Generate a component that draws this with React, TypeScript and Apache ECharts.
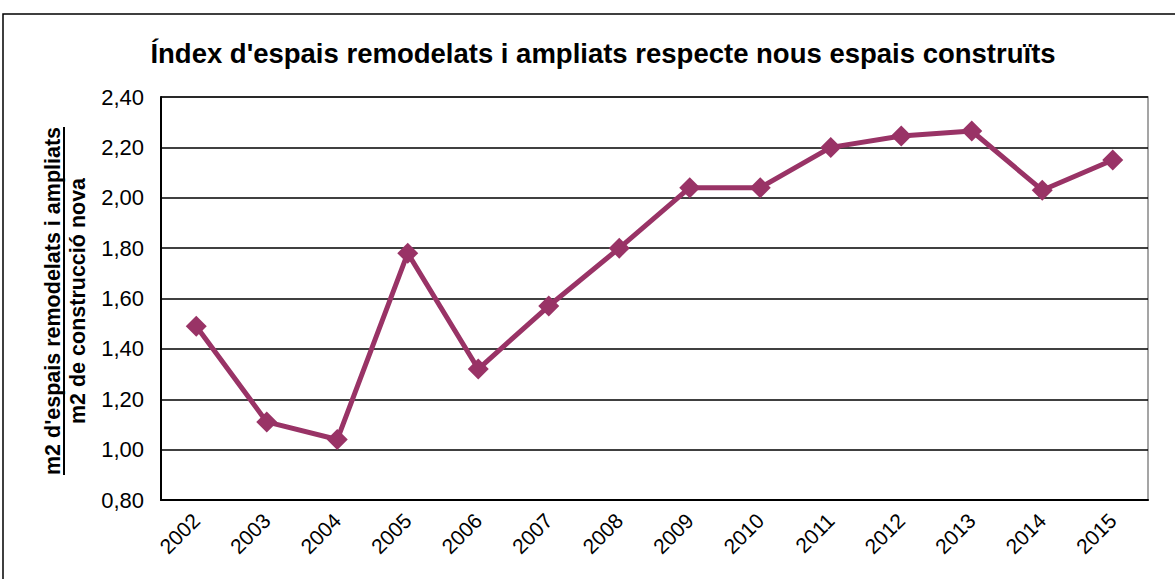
import React, { useEffect, useRef } from "react";
import * as echarts from "echarts";

const title = "Índex d'espais remodelats i ampliats respecte nous espais construïts";
const yLabelTop = "m2 d'espais remodelats i ampliats";
const yLabelBottom = "m2 de construcció nova";
const years = ["2002", "2003", "2004", "2005", "2006", "2007", "2008", "2009", "2010", "2011", "2012", "2013", "2014", "2015"];
const index = [1.49, 1.11, 1.04, 1.78, 1.32, 1.57, 1.8, 2.04, 2.04, 2.2, 2.245, 2.265, 2.03, 2.15];

export default function App() {
  const ref = useRef<HTMLDivElement>(null);
  useEffect(() => {
    if (!ref.current) return;
    const chart = echarts.init(ref.current, null, { renderer: "svg" });
    const font = "'Liberation Sans', Arial, sans-serif";
    chart.setOption({
      animation: false,
      backgroundColor: "#ffffff",
      textStyle: { fontFamily: font },
      title: {
        text: title,
        left: 598,
        textAlign: "center",
        top: 34,
        textStyle: { fontSize: 27.5, fontWeight: "bold", color: "#000", fontFamily: font },
      },
      grid: { left: 161, top: 97, right: 27, bottom: 79, show: true, borderColor: "#888", borderWidth: 1.5, backgroundColor: "transparent" },
      xAxis: {
        type: "category",
        data: years,
        boundaryGap: true,
        axisLine: { lineStyle: { color: "#000", width: 2 } },
        axisTick: { show: false },
        axisLabel: { rotate: 45, fontSize: 21, color: "#000", margin: 17, fontFamily: font },
      },
      yAxis: {
        type: "value",
        min: 0.8,
        max: 2.4,
        interval: 0.2,
        axisLine: { show: true, lineStyle: { color: "#000", width: 2 } },
        axisTick: { show: false },
        splitLine: { lineStyle: { color: "#000", width: 1.5 } },
        axisLabel: {
          fontSize: 22,
          color: "#000",
          margin: 17,
          fontFamily: font,
          formatter: (v: number) => v.toFixed(2).replace(".", ","),
        },
      },
      series: [
        {
          type: "line",
          data: index,
          symbol: "diamond",
          symbolSize: 21,
          lineStyle: { color: "#993366", width: 5 },
          itemStyle: { color: "#993366" },
        },
      ],
      graphic: [
        {
          type: "rect",
          shape: { x: 3, y: 14, width: 1200, height: 600 },
          style: { fill: "none", stroke: "#000", lineWidth: 1.5 },
          z: 100,
        },
        {
          type: "text",
          x: 53,
          y: 301,
          rotation: Math.PI / 2,
          style: { text: yLabelTop, font: `bold 21.5px ${font}`, fill: "#000", textAlign: "center", textVerticalAlign: "middle" },
        },
        {
          type: "line",
          shape: { x1: 64, y1: 127, x2: 64, y2: 475 },
          style: { stroke: "#000", lineWidth: 2 },
        },
        {
          type: "text",
          x: 78,
          y: 301,
          rotation: Math.PI / 2,
          style: { text: yLabelBottom, font: `bold 21.5px ${font}`, fill: "#000", textAlign: "center", textVerticalAlign: "middle" },
        },
      ],
    });
    return () => chart.dispose();
  }, []);
  return <div ref={ref} style={{ position: "fixed", left: 0, top: 0, width: 1175, height: 579 }} />;
}
